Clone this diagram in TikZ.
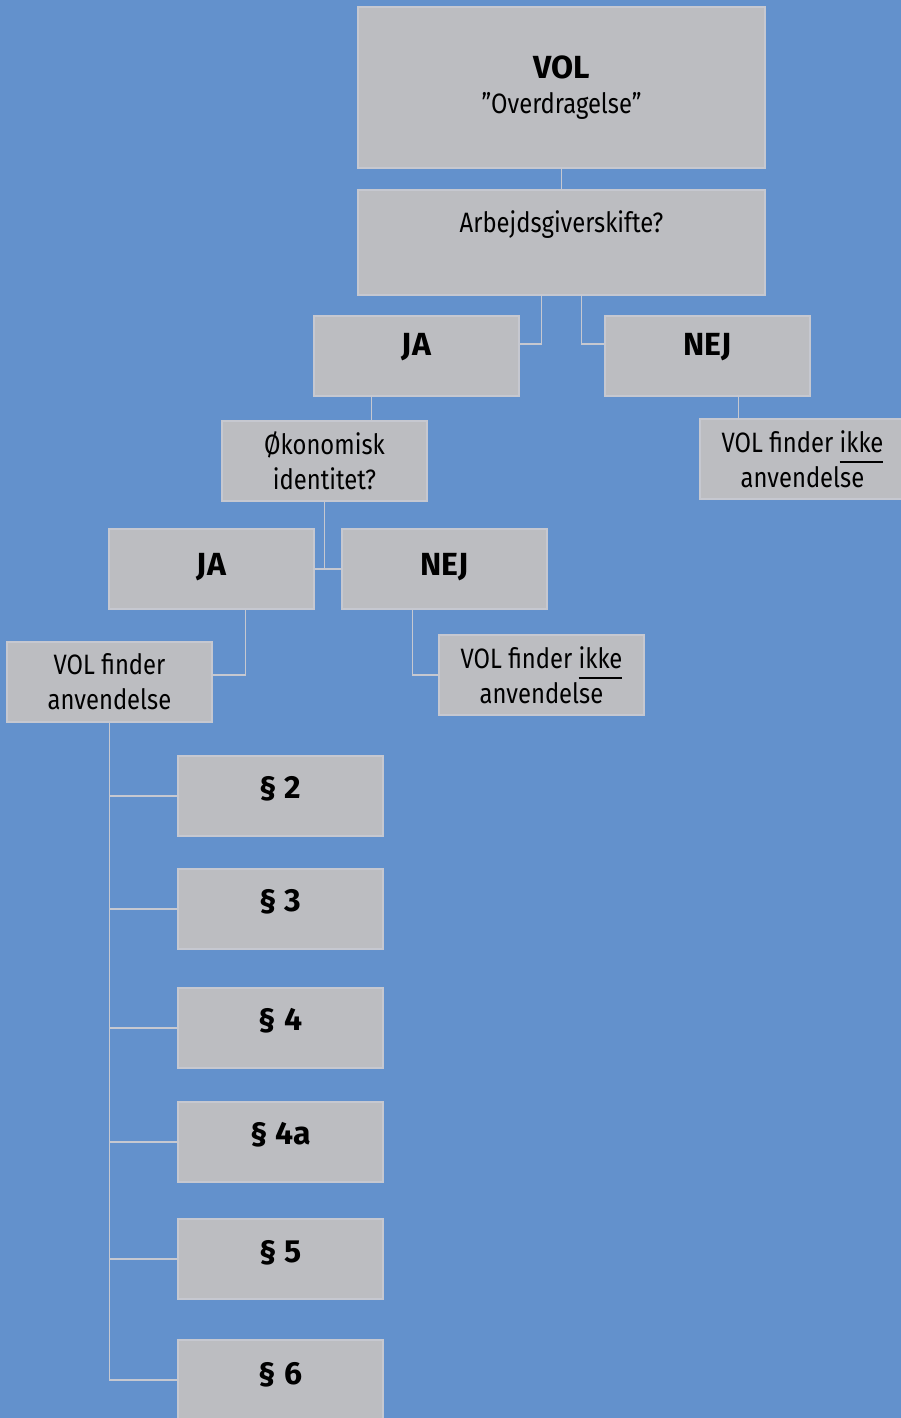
\documentclass[tikz,border=0pt]{standalone}
\usepackage{fontspec}
\setmainfont{Fira Sans}
\newfontfamily\condfont{Fira Sans}[FakeStretch=0.85]
\usetikzlibrary{positioning}
\definecolor{bgblue}{RGB}{99,145,204}
\definecolor{boxgray}{RGB}{188,189,193}
\definecolor{boxline}{RGB}{198,200,208}
\newcommand{\hd}[1]{{\rmfamily\bfseries\fontsize{32}{36}\selectfont #1}}
\newcommand{\ikkeul}[1]{\setbox0\hbox{#1}\rlap{\rule[-11pt]{\wd0}{2.5pt}}\box0}
\begin{document}
\begin{tikzpicture}[x=1pt, y=1pt, font=\condfont\fontsize{28}{35}\selectfont, box/.style={draw=boxline, line width=1.2pt, fill=boxgray, minimum width=205pt, minimum height=80pt, inner sep=0pt, outer sep=0pt, align=center}, lift/.style={text height=23pt, text depth=#1}, conn/.style={draw=boxline, line width=1.5pt}]
\useasboundingbox (0,0) rectangle (901,-1418);
\fill[bgblue] (0,0) rectangle (901,-1418);
% spørgsmål
\node[box, minimum width=407pt, minimum height=161pt, anchor=north west] (top) at (358,-7) {\hd{VOL}\\”Overdragelse”};
\node[box, minimum width=407pt, minimum height=105pt, text height=19pt, text depth=39pt, below=22pt of top] (arb) {Arbejdsgiverskifte?};
\node[box, lift=24pt, below right=21pt and -44pt of arb.south west] (ja1) {\hd{JA}};
\node[box, lift=24pt, right=86pt of ja1] (nej1) {\hd{NEJ}};
\node[box, below right=25pt and -92pt of ja1.south west] (okon) {Økonomisk\\identitet?};
\node[box, below right=23pt and 95pt of nej1.south west] (ikke1) {VOL finder \ikkeul{ikke}\\anvendelse};
\node[box, lift=10pt, below right=28pt and -113pt of okon.south west] (ja2) {\hd{JA}};
\node[box, lift=10pt, right=28pt of ja2] (nej2) {\hd{NEJ}};
\node[box, below right=33pt and -102pt of ja2.south west] (anv) {VOL finder\\anvendelse};
\node[box, below right=26pt and 97pt of nej2.south west] (ikke2) {VOL finder \ikkeul{ikke}\\anvendelse};
% paragraffer
\node[box, lift=18pt, below right=34pt and 171pt of anv.south west] (p2) {\hd{§ 2}};
\node[box, lift=18pt, below=33pt of p2] (p3) {\hd{§ 3}};
\node[box, lift=18pt, below=39pt of p3] (p4) {\hd{§ 4}};
\node[box, lift=18pt, below=34pt of p4] (p4a) {\hd{§ 4a}};
\node[box, lift=16pt, below=37pt of p4a] (p5) {\hd{§ 5}};
\node[box, lift=14pt, below=41pt of p5] (p6) {\hd{§ 6}};
% forbindelser
\draw[conn] (top) -- (arb);
\draw[conn] ([xshift=-20pt]arb.south) |- ([yshift=12pt]ja1.east);
\draw[conn] ([xshift=20pt]arb.south) |- ([yshift=12pt]nej1.west);
\coordinate (jaok) at ([xshift=-45pt]ja1.south);
\draw[conn] (jaok) -- (jaok |- okon.north);
\coordinate (nejikke) at ([xshift=31pt]nej1.south);
\draw[conn] (nejikke) -- (nejikke |- ikke1.north);
\draw[conn] (okon.south) -- (okon.south |- ja2.east);
\draw[conn] (ja2.east) -- (nej2.west);
\draw[conn] ([xshift=34pt]ja2.south) |- ([yshift=7pt]anv.east);
\draw[conn] ([xshift=-32pt]nej2.south) |- (ikke2.west);
\draw[conn] (anv.south) |- (p2.west);
\draw[conn] (anv.south) |- (p3.west);
\draw[conn] (anv.south) |- (p4.west);
\draw[conn] (anv.south) |- (p4a.west);
\draw[conn] (anv.south) |- (p5.west);
\draw[conn] (anv.south) |- (p6.west);
\end{tikzpicture}
\end{document}
